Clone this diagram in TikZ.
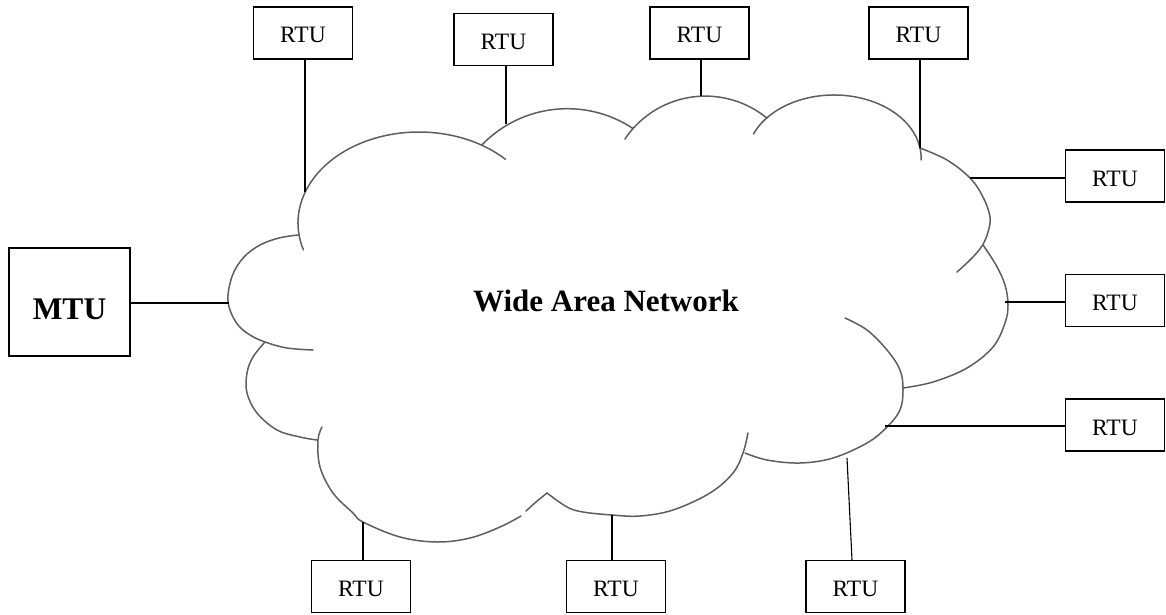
\documentclass[tikz,border=0pt]{standalone}
\usepackage{fontspec}
\setmainfont{Liberation Serif}
\definecolor{cloudgray}{HTML}{5E5E5E}
\begin{document}
\begin{tikzpicture}[x=1pt,y=-1pt,
  rtu/.style={draw=black,line width=1.1pt,minimum width=99pt,minimum height=52pt,inner sep=0pt,
    font=\fontsize{23.5}{28}\selectfont,text height=20pt,text depth=0pt},
  mtu/.style={draw=black,line width=2pt,minimum width=121pt,minimum height=108pt,inner sep=0pt,
    font=\fontsize{31.5}{36}\selectfont\bfseries,text height=35pt,text depth=0pt},
  cloudline/.style={draw=cloudgray,line width=1.5pt,line cap=round},
  link/.style={draw=black,line width=1.1pt},
  mlink/.style={draw=black,line width=2pt}]
\useasboundingbox (0,0) rectangle (1166,615);

% cloud outline (lobes)
\draw[cloudline] (419,223) ++(162.8:121 and 91) arc[start angle=162.8,end angle=315.6,x radius=121,y radius=91];
\draw[cloudline] (567.3,227.6) ++(223.9:118.9) arc[start angle=223.9,end angle=303.7,radius=118.9];
\draw[cloudline] (705.4,193) ++(213.8:96.9) arc[start angle=213.8,end angle=309.3,radius=96.9];
\draw[cloudline] (834,158) ++(202.4:87.1 and 63) arc[start angle=202.4,end angle=361.8,x radius=87.1,y radius=63];
\draw[cloudline] plot[smooth,tension=0.6] coordinates {(298,235) (279,238) (260,245) (244,257) (233,274) (228,295) (230,310) (238,325) (250,335) (265,342) (287,348) (313,350)};
\draw[cloudline] plot[smooth,tension=0.6] coordinates {(920,148) (947,160) (970,178) (983,197) (990,217) (988,232) (982,246) (971,259) (957,272)};
\draw[cloudline] plot[smooth,tension=0.6] coordinates {(983,245) (996,265) (1005,285) (1008,305) (1005,323) (993,347) (967,368) (933,382) (903,388)};
\draw[cloudline] plot[smooth,tension=0.6] coordinates {(845,318) (867,330) (887,350) (900,370) (903,390) (900,410) (887,427) (867,443) (833,458) (800,463) (767,460) (745,453)};
\draw[cloudline] plot[smooth,tension=0.6] coordinates {(748,433) (743,453) (733,473) (710,493) (673,510) (640,516) (612,515) (583,512) (567,507) (547,493)};
\draw[cloudline] plot[smooth,tension=0.6] coordinates {(547,493) (536,502) (526,511)};
\draw[cloudline] plot[smooth,tension=0.6] coordinates {(521,516) (500,527) (470,538) (437,542) (400,537) (363,522) (353,513) (333,493) (320,467) (318,440) (322,427)};
\draw[cloudline] plot[smooth,tension=0.6] coordinates {(265,342) (253,357) (247,373) (247,393) (257,413) (277,430) (300,437) (317,440)};

% attachment points on the cloud
\coordinate (c1) at (305,192);
\coordinate (c2) at (506,124);
\coordinate (c3) at (701,96);
\coordinate (c4) at (920,148);
\coordinate (c5) at (970,178);
\coordinate (c6) at (1005,302);
\coordinate (c7) at (885,426);
\coordinate (c8) at (363,522);
\coordinate (c9) at (612,515);
\coordinate (c10) at (847,458);
\coordinate (cm) at (229,303);

% boxes
\node[mtu] (mtu) at (69.5,302) {MTU};
\node[rtu] (r1) at (303,33) {RTU};
\node[rtu] (r2) at (503.5,39.5) {RTU};
\node[rtu] (r3) at (699.5,33) {RTU};
\node[rtu] (r4) at (918.5,33) {RTU};
\node[rtu] (r5) at (1115,176) {RTU};
\node[rtu] (r6) at (1115,300.5) {RTU};
\node[rtu] (r7) at (1115,425) {RTU};
\node[rtu] (r8) at (361,586.5) {RTU};
\node[rtu] (r9) at (616,586.5) {RTU};
\node[rtu] (r10) at (855.5,586.5) {RTU};

\node[anchor=base,font=\fontsize{31}{36}\selectfont\bfseries,inner sep=0pt] (wan) at (606,311.7) {Wide Area Network};

% connectors
\draw[mlink] (cm -| mtu.east) -- (cm);
\draw[link] (c1 |- r1.south) -- (c1);
\draw[link] (c2 |- r2.south) -- (c2);
\draw[link] (c3 |- r3.south) -- (c3);
\draw[link] (c4 |- r4.south) -- (c4);
\draw[link] (c5) -- (c5 -| r5.west);
\draw[link] (c6) -- (c6 -| r6.west);
\draw[link] (c7) -- (c7 -| r7.west);
\draw[link] (c8) -- (c8 |- r8.north);
\draw[link] (c9) -- (c9 |- r9.north);
\draw[link] (c10) -- ([xshift=-3.5pt]r10.north);
\end{tikzpicture}
\end{document}
